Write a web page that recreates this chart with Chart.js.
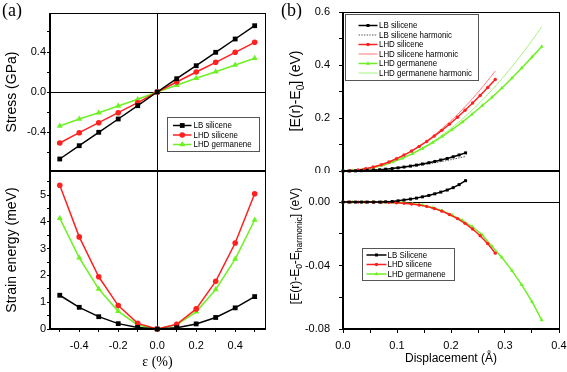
<!DOCTYPE html>
<html>
<head>
<meta charset="utf-8">
<title>Stress, strain energy and anharmonicity</title>
<script src="https://cdn.jsdelivr.net/npm/chart.js"></script>
<style>
  body { margin: 0; background: #fff; }
  #wrap { position: relative; width: 567px; height: 372px; font-family: 'Liberation Sans', Arial, sans-serif; color: #000; }
  .pane { position: absolute; }
  .tag { position: absolute; font-family: 'Liberation Serif', 'Times New Roman', serif; font-size: 18px; line-height: 18px; }
  .ytitle { position: absolute; transform: translate(-50%, -50%) rotate(-90deg); white-space: nowrap; font-size: 14px; line-height: 16px; }
  .ytitle sub { font-size: 10px; line-height: 0; }
  .ytitle.small { font-size: 12px; }
  .ytitle.small sub { font-size: 8.5px; }
</style>
</head>
<body>
<div id="wrap">
  <div class="pane" style="left:0;top:0;width:270px;height:173px"><canvas id="stressChart"></canvas></div>
  <div class="pane" style="left:0;top:171px;width:270px;height:201px"><canvas id="energyChart"></canvas></div>
  <div class="pane" style="left:280px;top:0;width:287px;height:173px"><canvas id="dispChart"></canvas></div>
  <div class="pane" style="left:280px;top:171px;width:287px;height:201px"><canvas id="anharmChart"></canvas></div>
  <div class="tag" style="left:2px;top:1px">(a)</div>
  <div class="tag" style="left:281px;top:1px">(b)</div>
  <div class="ytitle" style="left:295px;top:91px">[E(r)-E<sub>0</sub>] (eV)</div>
  <div class="ytitle small" style="left:295px;top:246px">[E(r)-E<sub>0</sub>-E<sub>harmonic</sub>] (eV)</div>
</div>

<script>
// ---- panel (a): strain in %, stress in GPa, strain energy in meV
const strain = [-0.5, -0.4, -0.3, -0.2, -0.1, 0, 0.1, 0.2, 0.3, 0.4, 0.5];
const stressLB = [-0.67, -0.537, -0.403, -0.27, -0.137, 0, 0.133, 0.263, 0.397, 0.53, 0.663];
const stressLHDSi = [-0.51, -0.407, -0.307, -0.207, -0.107, 0, 0.10, 0.20, 0.297, 0.397, 0.497];
const stressLHDGe = [-0.34, -0.27, -0.207, -0.14, -0.073, 0, 0.067, 0.137, 0.203, 0.27, 0.337];
const energyLB = [1.26, 0.81, 0.46, 0.2, 0.06, 0, 0.05, 0.19, 0.43, 0.79, 1.21];
const energyLHDSi = [5.37, 3.44, 1.95, 0.875, 0.21, 0, 0.175, 0.75, 1.78, 3.21, 5.05];
const energyLHDGe = [4.14, 2.66, 1.49, 0.66, 0.15, 0, 0.16, 0.64, 1.475, 2.61, 4.07];

// ---- panel (b): displacement in angstrom, energies in eV
const dispLB = [0, 0.011, 0.023, 0.034, 0.045, 0.057, 0.068, 0.079, 0.091, 0.102, 0.113, 0.125, 0.136, 0.147, 0.159, 0.170, 0.181, 0.193, 0.204, 0.215, 0.227];
const eLB = [0, 0.0001, 0.0005, 0.0012, 0.0022, 0.0034, 0.0049, 0.0069, 0.0092, 0.0119, 0.0150, 0.0185, 0.0223, 0.0265, 0.0312, 0.0361, 0.0415, 0.0473, 0.0536, 0.0605, 0.0684];
const eLBHarm = [0, 0.0001, 0.0005, 0.0012, 0.0022, 0.0034, 0.0049, 0.0067, 0.0088, 0.0111, 0.0137, 0.0166, 0.0198, 0.0232, 0.0270, 0.0309, 0.0352, 0.0397, 0.0445, 0.0495, 0.0549];
const dLB = [0, 0, 0, 0, 0, 0, 0, 0.0002, 0.0004, 0.0008, 0.0013, 0.0019, 0.0025, 0.0033, 0.0042, 0.0052, 0.0063, 0.0076, 0.0091, 0.0110, 0.0135];

const dispSi = [0, 0.014, 0.028, 0.042, 0.056, 0.071, 0.085, 0.099, 0.113, 0.127, 0.141, 0.155, 0.169, 0.183, 0.197, 0.212, 0.226, 0.240, 0.254, 0.268, 0.282];
const eSi = [0, 0.0009, 0.0037, 0.0084, 0.0149, 0.0238, 0.0341, 0.0462, 0.0601, 0.0753, 0.0927, 0.1113, 0.1319, 0.1534, 0.1765, 0.2029, 0.2293, 0.2566, 0.2852, 0.3149, 0.3454];
const eSiHarm = [0, 0.0009, 0.0037, 0.0084, 0.0149, 0.0239, 0.0343, 0.0466, 0.0608, 0.0765, 0.0945, 0.1140, 0.1359, 0.1591, 0.1843, 0.2133, 0.2427, 0.2736, 0.3064, 0.3411, 0.3776];
const dSi = [0, 0, 0, 0, 0, -0.0001, -0.0002, -0.0004, -0.0007, -0.0012, -0.0018, -0.0027, -0.0040, -0.0057, -0.0078, -0.0104, -0.0134, -0.0170, -0.0212, -0.0262, -0.0322];

const dispGe = [0, 0.018, 0.037, 0.055, 0.074, 0.092, 0.110, 0.129, 0.147, 0.166, 0.184, 0.202, 0.221, 0.239, 0.258, 0.276, 0.294, 0.313, 0.331, 0.350, 0.368];
const eGe = [0, 0.0013, 0.0055, 0.0122, 0.0219, 0.0338, 0.0481, 0.0658, 0.0849, 0.1072, 0.1306, 0.1558, 0.1846, 0.2141, 0.2470, 0.2783, 0.3125, 0.3508, 0.3884, 0.4297, 0.4699];
const eGeHarm = [0, 0.0013, 0.0055, 0.0122, 0.0220, 0.0340, 0.0486, 0.0669, 0.0868, 0.1108, 0.1361, 0.1640, 0.1962, 0.2295, 0.2677, 0.3063, 0.3473, 0.3940, 0.4406, 0.4925, 0.5443];
const dGe = [0, 0, 0, 0, -0.0001, -0.0002, -0.0005, -0.0011, -0.0019, -0.0036, -0.0055, -0.0082, -0.0116, -0.0154, -0.0207, -0.0280, -0.0348, -0.0432, -0.0522, -0.0628, -0.0744];

// labelled tick values (the other ticks are bare marks)
const stressLabels = [-0.4, 0, 0.4];
const energyLabels = [0, 1, 2, 3, 4, 5];
const strainLabels = [-0.4, -0.2, 0, 0.2, 0.4];
const eLabels = [0, 0.2, 0.4, 0.6];
const dLabels = [-0.08, -0.04, 0];
const dispLabels = [0, 0.1, 0.2, 0.3, 0.4];

const INK = '#000';
const RED = '#ff2020';
const GREEN = '#6ef024';

Chart.defaults.font.family = "'Liberation Sans', Arial, sans-serif";
Chart.defaults.color = INK;
Chart.defaults.animation = false;

// box round the plot area
const frame = {
  id: 'frame',
  afterDraw(chart) {
    const a = chart.chartArea, ctx = chart.ctx;
    ctx.save();
    ctx.strokeStyle = INK;
    ctx.lineWidth = 1;
    ctx.strokeRect(Math.round(a.left) - 0.5, Math.round(a.top) + 0.5, Math.round(a.right - a.left) + 1, Math.round(a.bottom - a.top) - 1);
    ctx.restore();
  }
};

// Origin-style legend in a thin box
const boxLegend = {
  id: 'boxLegend',
  afterDraw(chart, args, o) {
    if (!o.rows) return;
    const ctx = chart.ctx;
    ctx.save();
    ctx.fillStyle = '#fff';
    ctx.fillRect(o.x, o.y, o.w, o.h);
    ctx.strokeStyle = '#555';
    ctx.lineWidth = 1;
    ctx.strokeRect(o.x + 0.5, o.y + 0.5, o.w, o.h);
    chart.data.datasets.forEach((ds, i) => {
      const y = o.rows[i];
      ctx.strokeStyle = ds.borderColor;
      ctx.lineWidth = ds.borderWidth;
      ctx.setLineDash(ds.borderDash || []);
      ctx.beginPath();
      ctx.moveTo(o.x0, y);
      ctx.lineTo(o.x1, y);
      ctx.stroke();
      ctx.setLineDash([]);
      if (ds.pointRadius > 0) {
        ctx.fillStyle = ds.borderColor;
        Chart.helpers.drawPoint(ctx, { pointStyle: ds.pointStyle, radius: ds.pointRadius, rotation: 0, borderWidth: 0 }, (o.x0 + o.x1) / 2, y);
      }
      ctx.fillStyle = INK;
      ctx.font = o.font + "px 'Liberation Sans', Arial, sans-serif";
      ctx.textBaseline = 'middle';
      ctx.translate(o.tx, y);
      ctx.scale(0.88, 1);
      ctx.fillText(ds.label, 0, 0.5);
      ctx.setTransform(1, 0, 0, 1, 0, 0);
    });
    ctx.restore();
  }
};
Chart.register(frame, boxLegend);

function ticksAt(shown, digits) {
  return v => shown.some(s => Math.abs(s - v) < 1e-9) ? v.toFixed(digits) : '';
}

// fixed axis thickness, and no extra room for half-labels at the ends
function fixY(w) {
  return s => { s.width = w; s.paddingTop = 0; s.paddingBottom = 0; };
}
function fixX(h) {
  return s => { s.height = h; s.paddingLeft = 0; s.paddingRight = 0; };
}

function linAxis(o) {
  return {
    type: 'linear', min: o.min, max: o.max,
    border: { color: INK, width: 1 },
    grid: {
      color: c => (o.zero && c.tick && c.tick.value === 0) ? INK : 'rgba(0,0,0,0)',
      lineWidth: 1, tickColor: INK, tickLength: o.tl || 3, drawTicks: o.drawTicks !== false
    },
    ticks: {
      stepSize: o.step, includeBounds: false, autoSkip: false, maxRotation: 0,
      padding: o.pad || 3, font: { size: 11 }, display: o.labels !== false, callback: o.cb
    },
    title: o.title || { display: false },
    afterFit: o.fit
  };
}

function series(xs, ys, color, style, r, extra) {
  return Object.assign({
    data: xs.map((x, i) => ({ x: x, y: ys[i] })),
    borderColor: color, backgroundColor: color, pointBackgroundColor: color,
    pointBorderWidth: 0, pointStyle: style, pointRadius: r, borderWidth: 1.5, tension: 0, clip: false
  }, extra);
}

function base(padding, legendBox, scales) {
  return {
    responsive: true, maintainAspectRatio: false, events: [],
    layout: { padding: padding, autoPadding: false },
    plugins: { legend: { display: false }, tooltip: { enabled: false }, boxLegend: legendBox },
    scales: scales
  };
}

// (a) top: stress
new Chart(document.getElementById('stressChart'), {
  type: 'line',
  data: { datasets: [
    series(strain, stressLB, INK, 'rect', 3.4, { label: 'LB silicene' }),
    series(strain, stressLHDSi, RED, 'circle', 2.8, { label: 'LHD silicene' }),
    series(strain, stressLHDGe, GREEN, 'triangle', 3.5, { label: 'LHD germanene' })
  ] },
  options: base({ top: 13, right: 5, left: 0, bottom: 0 },
    { x: 167, y: 117, w: 92, h: 34, x0: 173, x1: 191.5, tx: 193.5, rows: [125.5, 135, 144.5], font: 9 },
    {
      x: linAxis({ min: -0.55, max: 0.553, step: 0.1, zero: true, labels: false, drawTicks: false, fit: fixX(2) }),
      y: linAxis({ min: -0.79, max: 0.79, step: 0.2, zero: true, pad: 1, cb: ticksAt(stressLabels, 1),
        title: { display: true, text: 'Stress (GPa)', font: { size: 14 }, padding: { top: 4, bottom: 0 } },
        fit: fixY(50) })
    })
});

// (a) bottom: strain energy
new Chart(document.getElementById('energyChart'), {
  type: 'line',
  data: { datasets: [
    series(strain, energyLB, INK, 'rect', 3.4, { label: 'LB silicene' }),
    series(strain, energyLHDSi, RED, 'circle', 2.8, { label: 'LHD silicene' }),
    series(strain, energyLHDGe, GREEN, 'triangle', 3.5, { label: 'LHD germanene' })
  ] },
  options: base({ top: 0, right: 5, left: 0, bottom: 0 }, {},
    {
      x: linAxis({ min: -0.55, max: 0.553, step: 0.1, zero: true, pad: 7, cb: ticksAt(strainLabels, 1),
        title: { display: true, text: 'ε (%)', font: { size: 14, family: "'Liberation Serif', 'Times New Roman', serif" }, padding: { top: 0, bottom: 1 } },
        fit: fixX(43) }),
      y: linAxis({ min: 0, max: 5.9, step: 0.5, pad: 1, cb: ticksAt(energyLabels, 0),
        title: { display: true, text: 'Strain energy (meV)', font: { size: 14 }, padding: { top: 4, bottom: 0 } },
        fit: fixY(50) })
    })
});

// (b) top: E(r)-E0 with harmonic fits
new Chart(document.getElementById('dispChart'), {
  type: 'line',
  data: { datasets: [
    series(dispLB, eLB, INK, 'rect', 2.1, { label: 'LB silicene' }),
    series(dispLB, eLBHarm, '#333', 'circle', 0, { label: 'LB silicene harmonic', borderWidth: 0.8, borderDash: [1.5, 1.2], tension: 0.3 }),
    series(dispSi, eSi, RED, 'circle', 1.7, { label: 'LHD silicene' }),
    series(dispSi, eSiHarm, '#ff5a5a', 'circle', 0, { label: 'LHD silicene harmonic', borderWidth: 0.8, tension: 0.3 }),
    series(dispGe, eGe, GREEN, 'triangle', 2.3, { label: 'LHD germanene' }),
    series(dispGe, eGeHarm, '#8ef060', 'circle', 0, { label: 'LHD germanene harmonic', borderWidth: 0.8, tension: 0.3 })
  ] },
  options: base({ top: 12, right: 8, left: 0, bottom: 0 },
    { x: 65, y: 14, w: 133, h: 66, x0: 78.5, x1: 97.5, tx: 99, rows: [25.5, 35, 44.5, 54, 63.5, 73], font: 9 },
    {
      x: linAxis({ min: 0, max: 0.4, step: 0.05, labels: false, drawTicks: false, fit: fixX(2) }),
      y: linAxis({ min: 0, max: 0.6, step: 0.1, tl: 4, pad: 9, cb: ticksAt(eLabels, 1), fit: fixY(63) })
    })
});

// (b) bottom: anharmonic part
new Chart(document.getElementById('anharmChart'), {
  type: 'line',
  data: { datasets: [
    series(dispLB, dLB, INK, 'rect', 2.1, { label: 'LB Silicene' }),
    series(dispSi, dSi, RED, 'circle', 1.7, { label: 'LHD silicene' }),
    series(dispGe, dGe, GREEN, 'triangle', 2.3, { label: 'LHD germanene' })
  ] },
  options: base({ top: 0, right: 8, left: 0, bottom: 0 },
    { x: 82, y: 77, w: 92, h: 32, x0: 86.5, x1: 106.5, tx: 107.5, rows: [84, 93.5, 103], font: 9 },
    {
      x: linAxis({ min: 0, max: 0.4, step: 0.05, tl: 4, pad: 6, cb: ticksAt(dispLabels, 1),
        title: { display: true, text: 'Displacement (Å)', font: { size: 12 }, padding: { top: 0, bottom: 6.5 } },
        fit: fixX(43) }),
      y: linAxis({ min: -0.08, max: 0.0196, step: 0.02, zero: true, tl: 4, pad: 9, cb: ticksAt(dLabels, 2), fit: fixY(63) })
    })
});
</script>
</body>
</html>
